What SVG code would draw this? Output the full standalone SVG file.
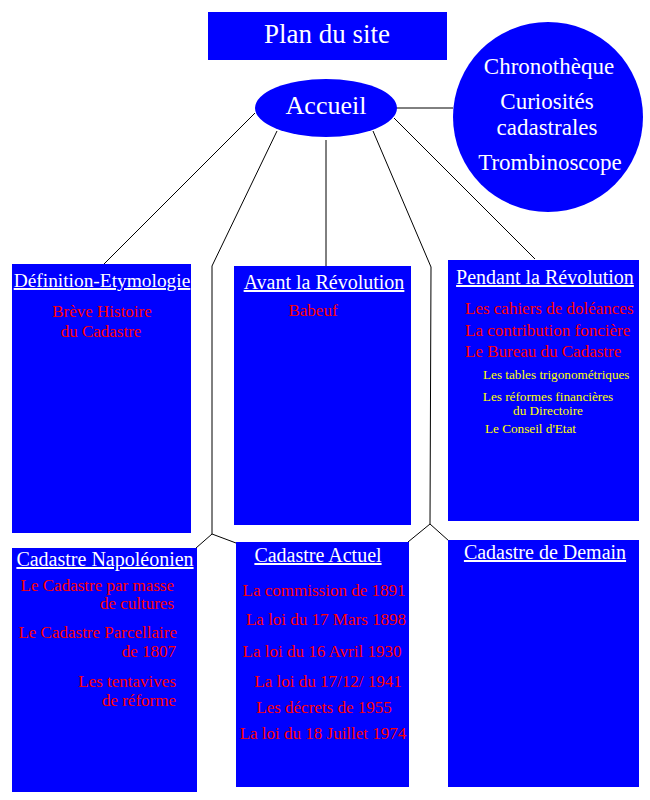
<svg xmlns="http://www.w3.org/2000/svg" width="650" height="800" viewBox="0 0 650 800">
<style>
.box{fill:#0000ff;stroke:none}
.ln{fill:none;stroke:#000;stroke-width:1}
text{font-family:"Liberation Serif","Times New Roman",serif}
.big{fill:#fff;font-size:26px;text-anchor:middle}
.circ{fill:#fff;font-size:23px;text-anchor:middle}
.ttl{fill:#fff;font-size:20px;text-anchor:middle;text-decoration:underline}
.red{fill:#ff0000;font-size:17px}
.yel{fill:#ffff00;font-size:13.2px}
.m{text-anchor:middle}
.e{text-anchor:end}
</style>
<rect width="650" height="800" fill="#fff"/>
<g id="connectors">
<path class="ln" d="M255,113 L103,265"/>
<path class="ln" d="M277,131 L212,266 L212,534"/>
<path class="ln" d="M196,548 L212,534 L236,543"/>
<path class="ln" d="M326,140 L326,267"/>
<path class="ln" d="M373,131 L431,267 L430,524"/>
<path class="ln" d="M408,542 L430,524 L449,541"/>
<path class="ln" d="M394,118 L535,259"/>
<path class="ln" d="M396,108 L453,108"/>
</g>
<g id="plan">
<rect class="box" x="208" y="12" width="239" height="48"/>
<text class="big" x="327" y="43" style="font-size:27px">Plan du site</text>
</g>
<g id="accueil">
<ellipse class="box" cx="326" cy="108" rx="71" ry="29"/>
<text class="big" x="326" y="114">Accueil</text>
</g>
<g id="extras">
<ellipse class="box" cx="548" cy="117" rx="95" ry="95"/>
<text class="circ" x="549" y="74">Chronothèque</text>
<text class="circ" x="547" y="109">Curiosités</text>
<text class="circ" x="547" y="135">cadastrales</text>
<text class="circ" x="550" y="170">Trombinoscope</text>
</g>
<g id="definition">
<rect class="box" x="12" y="264" width="179" height="269"/>
<text class="ttl" x="102" y="287" style="font-size:19.4px">Définition-Etymologie</text>
<text class="red m" x="102" y="317">Brève Histoire</text>
<text class="red m" x="101" y="337">du Cadastre</text>
</g>
<g id="avant">
<rect class="box" x="234" y="266" width="177" height="259"/>
<text class="ttl" x="324" y="289">Avant la Révolution</text>
<text class="red m" x="313" y="316">Babeuf</text>
</g>
<g id="pendant">
<rect class="box" x="448" y="260" width="191" height="261"/>
<text class="ttl" x="545" y="284">Pendant la Révolution</text>
<text class="red" x="465" y="314">Les cahiers de doléances</text>
<text class="red" x="465" y="336">La contribution foncière</text>
<text class="red" x="465" y="357">Le Bureau du Cadastre</text>
<text class="yel" x="483" y="379">Les tables trigonométriques</text>
<text class="yel m" x="548" y="401">Les réformes financières</text>
<text class="yel m" x="548" y="415">du Directoire</text>
<text class="yel" x="485" y="433">Le Conseil d'Etat</text>
</g>
<g id="napoleonien">
<rect class="box" x="12" y="548" width="185" height="244"/>
<text class="ttl" x="105" y="566">Cadastre Napoléonien</text>
<text class="red e" x="174" y="591">Le Cadastre par masse</text>
<text class="red e" x="174" y="609">de cultures</text>
<text class="red e" x="177" y="638">Le Cadastre Parcellaire</text>
<text class="red e" x="176" y="657">de 1807</text>
<text class="red e" x="176" y="687">Les tentavives</text>
<text class="red e" x="176" y="706">de réforme</text>
</g>
<g id="actuel">
<rect class="box" x="236" y="542" width="173" height="245"/>
<text class="ttl" x="318" y="562">Cadastre Actuel</text>
<text class="red m" x="324" y="596">La commission de 1891</text>
<text class="red m" x="326" y="625">La loi du 17 Mars 1898</text>
<text class="red m" x="322" y="657">La loi du 16 Avril 1930</text>
<text class="red m" x="328" y="687">La loi du 17/12/ 1941</text>
<text class="red m" x="324" y="713">Les décrets de 1955</text>
<text class="red m" x="323" y="739">La loi du 18 Juillet 1974</text>
</g>
<g id="demain">
<rect class="box" x="448" y="540" width="191" height="247"/>
<text class="ttl" x="545" y="559">Cadastre de Demain</text>
</g>
</svg>
